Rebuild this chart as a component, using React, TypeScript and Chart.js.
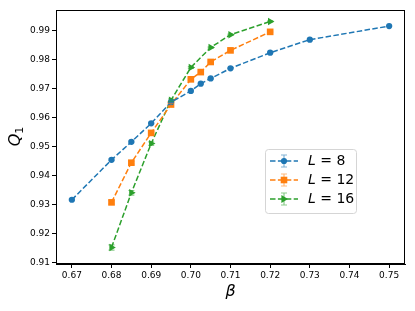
import React, { useEffect, useRef } from "react";
import { Chart, registerables } from "chart.js";

Chart.register(...registerables);

const betas8 = [0.67, 0.68, 0.685, 0.69, 0.695, 0.7, 0.7025, 0.705, 0.71, 0.72, 0.73, 0.75];
const q8 = [0.9316, 0.9454, 0.9516, 0.958, 0.9653, 0.9692, 0.9717, 0.9735, 0.977, 0.9824, 0.9869, 0.9916];
const err8 = [0.0003, 0.0003, 0.0003, 0.0003, 0.0003, 0.0003, 0.0002, 0.0002, 0.0002, 0.0002, 0.0002, 0.0001];

const betas12 = [0.68, 0.685, 0.69, 0.695, 0.7, 0.7025, 0.705, 0.71, 0.72];
const q12 = [0.9307, 0.9444, 0.9547, 0.9645, 0.9732, 0.9757, 0.9792, 0.9832, 0.9896];
const err12 = [0.0006, 0.0005, 0.0005, 0.0004, 0.0003, 0.0003, 0.0003, 0.0002, 0.0002];

const betas16 = [0.68, 0.685, 0.69, 0.695, 0.7, 0.705, 0.71, 0.72];
const q16 = [0.9151, 0.934, 0.951, 0.966, 0.9773, 0.9842, 0.9886, 0.9932];
const err16 = [0.0009, 0.0008, 0.0006, 0.0004, 0.0003, 0.0002, 0.0002, 0.0002];

const seriesLabels = ["8", "12", "16"];
const colors = ["#1f77b4", "#ff7f0e", "#2ca02c"];
const xTicks = [0.67, 0.68, 0.69, 0.7, 0.71, 0.72, 0.73, 0.74, 0.75];
const yTicks = [0.91, 0.92, 0.93, 0.94, 0.95, 0.96, 0.97, 0.98, 0.99];

const FONT = "'DejaVu Sans', sans-serif";

function drawMarker(ctx: CanvasRenderingContext2D, i: number, x: number, y: number) {
  ctx.fillStyle = colors[i];
  ctx.beginPath();
  if (i === 0) {
    ctx.arc(x, y, 3.1, 0, Math.PI * 2);
  } else if (i === 1) {
    ctx.rect(x - 3.3, y - 3.3, 6.6, 6.6);
  } else {
    ctx.moveTo(x + 4, y);
    ctx.lineTo(x - 2.6, y - 4);
    ctx.lineTo(x - 2.6, y + 4);
    ctx.closePath();
  }
  ctx.fill();
}

const allErr = [err8, err12, err16];

const extrasPlugin = {
  id: "extras",
  afterDatasetsDraw(chart: any) {
    const ctx = chart.ctx as CanvasRenderingContext2D;
    const xs = chart.scales.x;
    const ys = chart.scales.y;
    ctx.save();
    chart.data.datasets.forEach((ds: any, i: number) => {
      ctx.strokeStyle = colors[i];
      ctx.globalAlpha = 0.55;
      ctx.lineWidth = 1.2;
      ds.data.forEach((p: any, j: number) => {
        const e = allErr[i][j];
        const px = xs.getPixelForValue(p.x);
        const y1 = ys.getPixelForValue(p.y - e);
        const y2 = ys.getPixelForValue(p.y + e);
        ctx.beginPath();
        ctx.moveTo(px, y1);
        ctx.lineTo(px, y2);
        ctx.moveTo(px - 3, y1);
        ctx.lineTo(px + 3, y1);
        ctx.moveTo(px - 3, y2);
        ctx.lineTo(px + 3, y2);
        ctx.stroke();
      });
    });
    ctx.restore();
  },
  afterDraw(chart: any) {
    const ctx = chart.ctx as CanvasRenderingContext2D;
    const a = chart.chartArea;
    ctx.save();
    // frame
    ctx.strokeStyle = "#000";
    ctx.lineWidth = 1;
    ctx.strokeRect(Math.round(a.left) + 0.5, Math.round(a.top) + 0.5, Math.round(a.right - a.left) - 1, Math.round(a.bottom - a.top) - 1);

    // axis titles
    ctx.fillStyle = "#000";
    ctx.textBaseline = "middle";
    ctx.textAlign = "center";
    ctx.font = `italic 16px ${FONT}`;
    ctx.fillText("β", (a.left + a.right) / 2, 292);
    ctx.save();
    ctx.translate(16, 137);
    ctx.rotate(-Math.PI / 2);
    ctx.font = `italic 16px ${FONT}`;
    ctx.textAlign = "left";
    const qw = ctx.measureText("Q").width;
    ctx.fillText("Q", -qw / 2 - 3, 0);
    ctx.font = `11px ${FONT}`;
    ctx.fillText("1", qw / 2 - 3, 4);
    ctx.restore();

    // legend
    const lx = 265, ly = 149, lw = 91, lh = 64;
    ctx.globalAlpha = 0.8;
    ctx.fillStyle = "#fff";
    ctx.beginPath();
    (ctx as any).roundRect(lx + 0.5, ly + 0.5, lw, lh, 3);
    ctx.fill();
    ctx.globalAlpha = 1;
    ctx.strokeStyle = "#d5d5d5";
    ctx.lineWidth = 1;
    ctx.stroke();
    const rows = [161, 180, 199];
    rows.forEach((ry, i) => {
      ctx.strokeStyle = colors[i];
      ctx.lineWidth = 1.5;
      ctx.setLineDash([5.5, 2.4]);
      ctx.beginPath();
      ctx.moveTo(270, ry);
      ctx.lineTo(298, ry);
      ctx.stroke();
      ctx.setLineDash([]);
      drawMarker(ctx, i, 284, ry);
      ctx.globalAlpha = 0.55;
      ctx.lineWidth = 1.2;
      ctx.beginPath();
      ctx.moveTo(284, ry - 6);
      ctx.lineTo(284, ry + 6);
      ctx.moveTo(281, ry - 6);
      ctx.lineTo(287, ry - 6);
      ctx.moveTo(281, ry + 6);
      ctx.lineTo(287, ry + 6);
      ctx.stroke();
      ctx.globalAlpha = 1;
      ctx.fillStyle = "#000";
      ctx.textAlign = "left";
      ctx.textBaseline = "middle";
      ctx.font = `italic 14px ${FONT}`;
      ctx.fillText("L", 308, ry);
      const w = ctx.measureText("L").width;
      ctx.font = `14px ${FONT}`;
      ctx.fillText(" = " + seriesLabels[i], 308 + w, ry);
    });
    ctx.restore();
  },
};

export default function App() {
  const ref = useRef<HTMLCanvasElement | null>(null);
  useEffect(() => {
    document.body.style.margin = "0";
    const radii = [3.1, 4.7, 4.3];
    const mk = (bs: number[], qs: number[], i: number, style: any, rot = 0) => ({
      label: "L = " + seriesLabels[i],
      data: bs.map((b, j) => ({ x: b, y: qs[j] })),
      borderColor: colors[i],
      backgroundColor: colors[i],
      borderWidth: 1.5,
      borderDash: [5.5, 2.4],
      pointStyle: style,
      pointRotation: rot,
      pointRadius: radii[i],
      pointBorderWidth: 0,
      pointHoverRadius: 0,
      showLine: true,
      tension: 0,
    });
    const chart = new Chart(ref.current!, {
      type: "scatter",
      data: {
        datasets: [
          mk(betas8, q8, 0, "circle"),
          mk(betas12, q12, 1, "rect"),
          mk(betas16, q16, 2, "triangle", 90),
        ],
      },
      options: {
        animation: false,
        responsive: false,
        events: [],
        layout: { padding: { left: 0, right: 10, top: 10, bottom: 0 } },
        plugins: { legend: { display: false }, tooltip: { enabled: false } },
        scales: {
          x: {
            type: "linear",
            min: 0.666,
            max: 0.754,
            afterFit: (s: any) => { s.height = 47; },
            afterBuildTicks: (s: any) => { s.ticks = xTicks.map((v) => ({ value: v })); },
            grid: { display: true, drawOnChartArea: false, drawTicks: true, tickLength: 4, color: "#000" },
            border: { display: true, color: "#000", width: 1 },
            ticks: {
              color: "#000",
              font: { family: FONT, size: 9 },
              padding: 2,
              maxRotation: 0,
              callback: (v: any) => Number(v).toFixed(2),
            },
          },
          y: {
            type: "linear",
            min: 0.90941,
            max: 0.99715,
            afterFit: (s: any) => { s.width = 56; },
            afterBuildTicks: (s: any) => { s.ticks = yTicks.map((v) => ({ value: v })); },
            grid: { display: true, drawOnChartArea: false, drawTicks: true, tickLength: 4, color: "#000" },
            border: { display: true, color: "#000", width: 1 },
            ticks: {
              color: "#000",
              font: { family: FONT, size: 9 },
              padding: 2,
              callback: (v: any) => Number(v).toFixed(2),
            },
          },
        },
      },
      plugins: [extrasPlugin],
    } as any);
    return () => chart.destroy();
  }, []);
  return (
    <div style={{ position: "absolute", left: 0, top: 0, width: 415, height: 311 }}>
      <canvas ref={ref} width={415} height={311} style={{ width: 415, height: 311, display: "block" }} />
    </div>
  );
}
